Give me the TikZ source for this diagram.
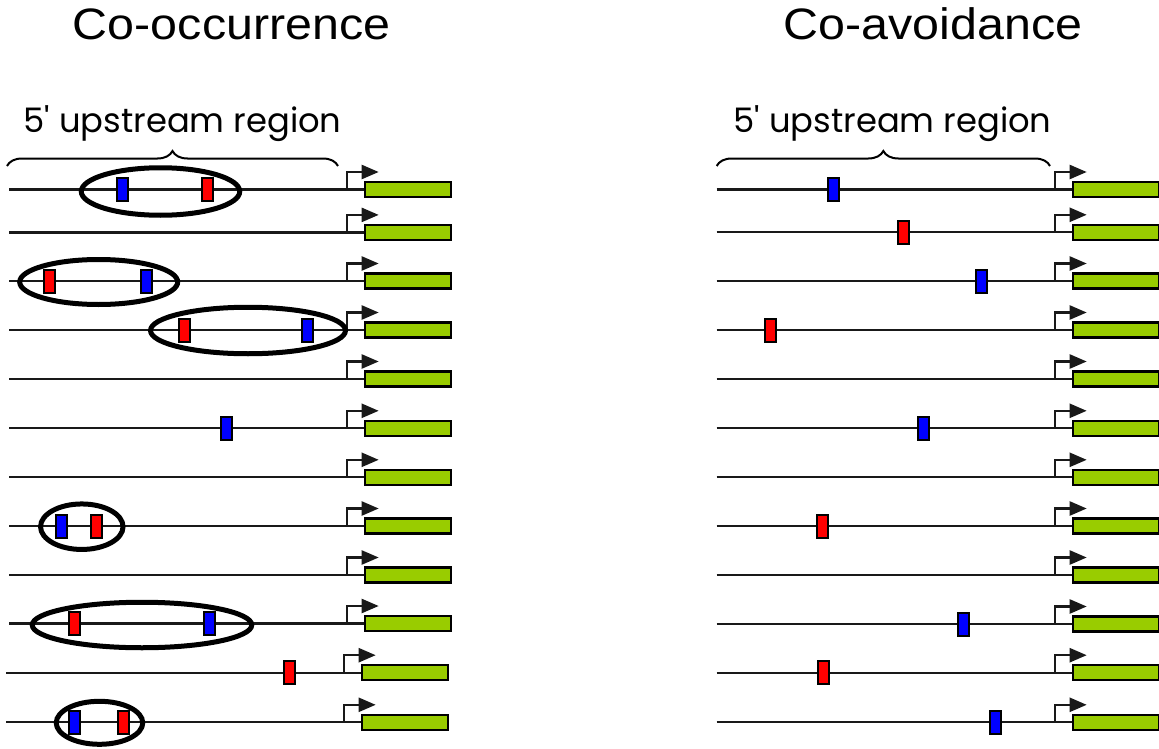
\documentclass[tikz,border=0pt]{standalone}
\usepackage{graphicx}
\usepackage{fontspec}
\setmainfont{Liberation Sans}
\newfontfamily\notefont{Poppins}
\usetikzlibrary{arrows.meta,decorations.pathreplacing,shapes.geometric}
\definecolor{genegreen}{HTML}{99CC00}
\definecolor{siteblue}{HTML}{0000FF}
\definecolor{sitered}{HTML}{FF0000}

\begin{document}
\begin{tikzpicture}[x=1pt,y=-1pt,
  strand/.style={line width=2.3pt, black!90},
  gene/.style={draw, line width=2.3pt, fill=genegreen, rectangle,
    minimum width=86pt, minimum height=15pt, inner sep=0pt, anchor=west},
  tss/.style={line width=2.3pt, black!90, -{Triangle[length=17pt,width=14pt]}},
  motif/.style={draw, line width=2pt, rectangle, minimum width=11pt,
    minimum height=23pt, inner sep=0pt},
  redsite/.style={motif, fill=sitered},
  bluesite/.style={motif, fill=siteblue},
  pair/.style={draw, ellipse, line width=5pt, inner sep=0pt},
  span/.style={decorate, decoration={brace, amplitude=15pt}, line width=2pt},
  heading/.style={font=\fontsize{44}{50}\selectfont, anchor=base},
  regionlabel/.style={anchor=base west, inner sep=0pt},
]
\useasboundingbox (0,0) rectangle (1159,749);

% titles
\node[heading] (tl) at (231.7,40) {\scalebox{1.1}[1]{Co-occurrence}};
\node[heading] (tr) at (933,40) {\scalebox{1.1}[1]{Co-avoidance}};

% upstream region labels and braces
\node[regionlabel] (ul) at (23.3,132.7) {\resizebox{318pt}{!}{\notefont 5' upstream region}};
\node[regionlabel] (ur) at (733.3,132.7) {\resizebox{318pt}{!}{\notefont 5' upstream region}};
\coordinate (bl1) at (7,166);
\coordinate (bl2) at (338,166);
\coordinate (br1) at (716.7,166);
\coordinate (br2) at (1050,166);
\draw[span] (bl1) -- (bl2);
\draw[span] (br1) -- (br2);

% left panel: strands, promoters, genes
\foreach \i/\y/\dx in {1/189.5/0, 2/232.4/0, 3/281/0, 4/330/0, 5/379/0,
    6/428.3/0, 7/477.3/0, 8/526/0, 9/575/0, 10/623.5/0, 11/672.7/-3, 12/722.3/-3} {
  \coordinate (Ls\i) at (9+\dx,\y);
  \coordinate (Lp\i) at (346.7+\dx,\y);
  \node[gene] (Lg\i) at (363.7+\dx,\y) {};
  \draw[strand] (Ls\i) -- (Lg\i.west);
  \draw[tss] (Lp\i) -- ++(0,-17.5) -- ++(32,0);
}

% right panel: strands, promoters, genes
\foreach \i/\y in {1/189.5, 2/232.3, 3/281, 4/330, 5/379,
    6/428.3, 7/477.3, 8/526, 9/575, 10/624, 11/672.7, 12/722.3} {
  \coordinate (Rs\i) at (716.7,\y);
  \coordinate (Rp\i) at (1054.7,\y);
  \node[gene] (Rg\i) at (1071.7,\y) {};
  \draw[strand] (Rs\i) -- (Rg\i.west);
  \draw[tss] (Rp\i) -- ++(0,-17.5) -- ++(32,0);
}

% co-occurring pairs
\node[pair, minimum width=158.5pt, minimum height=47.5pt] (E1) at (160.5,191.5) {};
\node[pair, minimum width=158pt, minimum height=45pt] (E3) at (98.7,282) {};
\node[pair, minimum width=195pt, minimum height=46.5pt] (E4) at (248,330.5) {};
\node[pair, minimum width=82.5pt, minimum height=45.5pt] (E8) at (81.8,526.7) {};
\node[pair, minimum width=219.5pt, minimum height=45.5pt] (E10) at (142,625) {};
\node[pair, minimum width=86.5pt, minimum height=43pt] (E12) at (99.5,722.8) {};

% left panel sites
\node[bluesite] (L1a) at (122,189.5) {};
\node[redsite]  (L1b) at (207.7,189.5) {};
\node[redsite]  (L3a) at (49.7,281) {};
\node[bluesite] (L3b) at (146.3,281) {};
\node[redsite]  (L4a) at (184.5,330) {};
\node[bluesite] (L4b) at (307.2,330) {};
\node[bluesite] (L6a) at (226.3,428.3) {};
\node[bluesite] (L8a) at (61.3,526) {};
\node[redsite]  (L8b) at (96.7,526) {};
\node[redsite]  (L10a) at (74.2,623.5) {};
\node[bluesite] (L10b) at (209.2,623.5) {};
\node[redsite]  (L11a) at (289,672.7) {};
\node[bluesite] (L12a) at (74,722.3) {};
\node[redsite]  (L12b) at (123,722.3) {};

% right panel sites
\node[bluesite] (R1a) at (833.8,189.5) {};
\node[redsite]  (R2a) at (903.7,232.3) {};
\node[bluesite] (R3a) at (981.2,281) {};
\node[redsite]  (R4a) at (770.8,330) {};
\node[bluesite] (R6a) at (923.8,428.3) {};
\node[redsite]  (R8a) at (822,526) {};
\node[bluesite] (R10a) at (963.2,624) {};
\node[redsite]  (R11a) at (823,672.7) {};
\node[bluesite] (R12a) at (995.8,722.3) {};
\end{tikzpicture}
\end{document}
